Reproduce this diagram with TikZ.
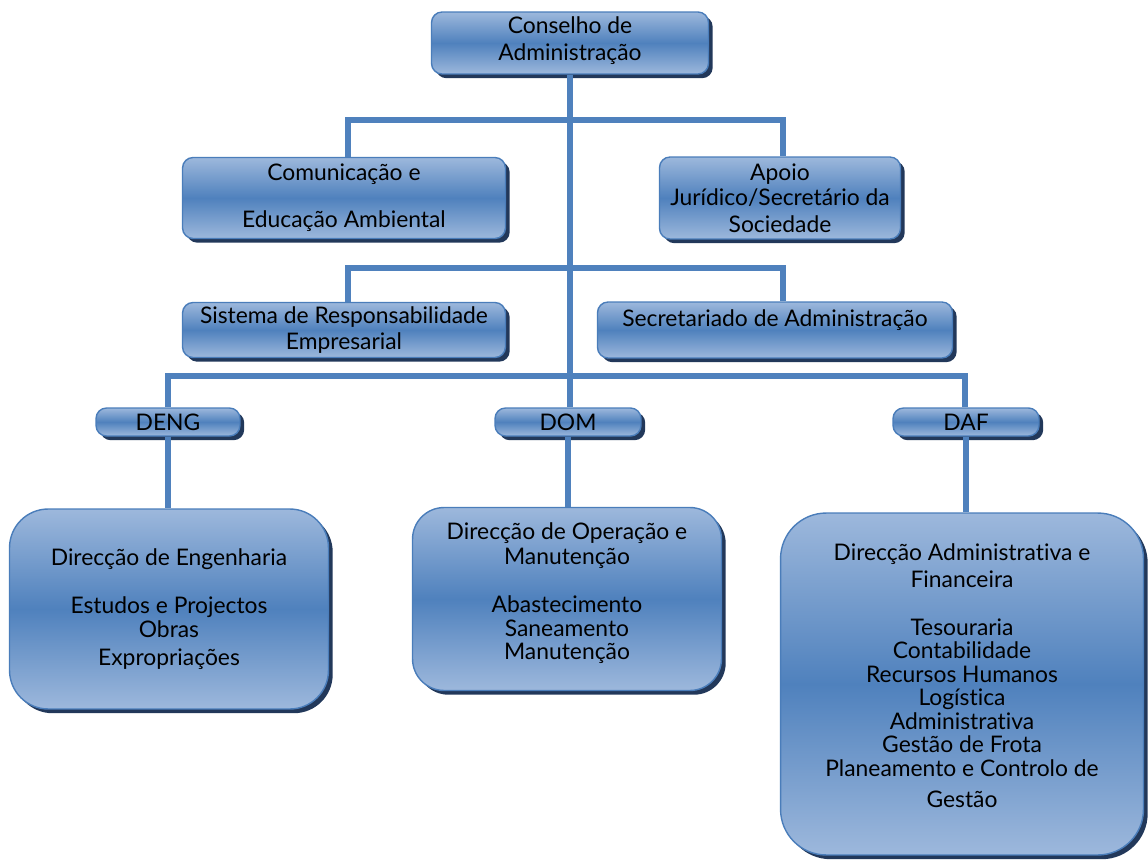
\documentclass[tikz,border=0pt]{standalone}
\usepackage{fontspec}
\setmainfont{Lato}[Ligatures=NoCommon]
\usetikzlibrary{shadows}

\definecolor{boxlight}{HTML}{9DB8DC}
\definecolor{boxmid}{HTML}{4F81BD}
\definecolor{boxedge}{HTML}{4A7DBA}
\definecolor{shadowblue}{HTML}{22385A}
\definecolor{linkblue}{HTML}{4F81BD}

\begin{document}
\begin{tikzpicture}
  [
    x = 0.02cm, y = -0.02cm,
    unit/.style = {draw=boxedge, line width=0.8pt, top color=boxlight, bottom color=boxlight,
        middle color=boxmid, rounded corners=6pt, align=center, text=black,
        font=\fontsize{13}{13.4}\selectfont, inner sep=2pt,
        drop shadow={shadow xshift=2.4pt, shadow yshift=-2.4pt, fill=shadowblue, opacity=1}},
    dept/.style = {unit, rounded corners=22pt},
    link/.style = {draw=linkblue, line width=3.4pt},
  ]

  \useasboundingbox (0,0) rectangle (1148,861);

  % top level
  \node[unit, minimum width=5.54cm, minimum height=1.24cm] (board) at (570,43)
    {Conselho de\\[1.9pt]Administração\\[-8.4pt]\mbox{}};

  % staff units
  \node[unit, minimum width=6.46cm, minimum height=1.62cm] (com) at (344,198)
    {Comunicação e\\[13.2pt]Educação Ambiental};
  \node[unit, minimum width=4.82cm, minimum height=1.64cm] (legal) at (780,198)
    {Apoio\\[0.8pt]Jurídico/Secretário da\\[1.9pt]Sociedade};
  \node[unit, minimum width=6.46cm, minimum height=1.10cm] (sre) at (344,330)
    {Sistema de Responsabilidade\\[1.3pt]Empresarial};
  \node[unit, minimum width=7.10cm, minimum height=1.12cm] (secr) at (775,330)
    {Secretariado de Administração\\[0pt]\mbox{}};

  % directorates
  \node[unit, minimum width=2.88cm, minimum height=0.56cm] (deng) at (168,422) {DENG};
  \node[unit, minimum width=2.92cm, minimum height=0.56cm] (dom) at (568,422) {DOM};
  \node[unit, minimum width=2.92cm, minimum height=0.56cm] (daf) at (966,422) {DAF};

  \node[dept, minimum width=6.38cm, minimum height=4.00cm] (eng) at (169,609)
    {Direcção de Engenharia\\[13.8pt]Estudos e Projectos\\Obras\\[2.5pt]Expropriações};
  \node[dept, rounded corners=18pt, minimum width=6.18cm, minimum height=3.66cm] (ope) at (567,599)
    {Direcção de Operação e\\[1.3pt]Manutenção\\[13.8pt]Abastecimento\\Saneamento\\Manutenção\\[-4.4pt]\mbox{}};
  \node[dept, rounded corners=26pt, minimum width=7.26cm, minimum height=6.84cm] (fin) at (962,684)
    {Direcção Administrativa e\\[1.9pt]Financeira\\[13.8pt]Tesouraria\\Contabilidade\\Recursos Humanos\\Logística\\Administrativa\\Gestão de Frota\\Planeamento e Controlo de\\[4.2pt]Gestão\\[-3.8pt]\mbox{}};

  % connectors
  \coordinate (bar1l) at (348,120);
  \coordinate (bar1r) at (783,120);
  \coordinate (bar2l) at (348,268);
  \coordinate (bar2r) at (783,268);
  \coordinate (bar3l) at (168,376);
  \coordinate (bar3r) at (965,376);

  \draw[link] (board.south) -- (board.south |- dom.north);
  \draw[link] (bar1l |- com.north) -- (bar1l) -- (bar1r) -- (bar1r |- legal.north);
  \draw[link] (bar2l |- sre.north) -- (bar2l) -- (bar2r) -- (bar2r |- secr.north);
  \draw[link] (bar3l |- deng.north) -- (bar3l) -- (bar3r) -- (bar3r |- daf.north);
  \draw[link] (deng.south) -- (deng.south |- eng.north);
  \draw[link] (dom.south) -- (dom.south |- ope.north);
  \draw[link] (daf.south) -- (daf.south |- fin.north);

\end{tikzpicture}
\end{document}
